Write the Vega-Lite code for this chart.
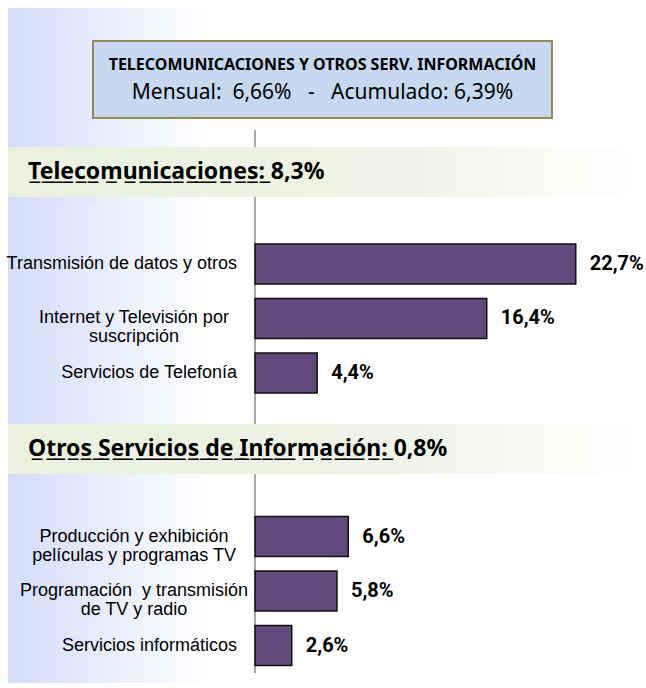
{
  "$schema": "https://vega.github.io/schema/vega-lite/v6.json",
  "width": 638,
  "height": 675,
  "padding": {"left": 8, "top": 8, "right": 0, "bottom": 5},
  "autosize": {"type": "none"},
  "background": "#ffffff",
  "config": {
    "view": {"stroke": null},
    "locale": {"number": {"decimal": ",", "thousands": ".", "grouping": [3], "currency": ["", " €"]}}
  },
  "datasets": {
    "titulo": [
      {"titulo": "TELECOMUNICACIONES Y OTROS SERV. INFORMACIÓN", "mensual": 0.0666, "acumulado": 0.0639}
    ],
    "grupos": [
      {"grupo": "Telecomunicaciones", "tasa": 0.083},
      {"grupo": "Otros Servicios de Información", "tasa": 0.008}
    ],
    "barras": [
      {"grupo": "Telecomunicaciones", "categoria": "Transmisión de datos y otros", "valor": 0.227},
      {"grupo": "Telecomunicaciones", "categoria": "Internet y Televisión por\nsuscripción", "valor": 0.164},
      {"grupo": "Telecomunicaciones", "categoria": "Servicios de Telefonía", "valor": 0.044},
      {"grupo": "Otros Servicios de Información", "categoria": "Producción y exhibición\npelículas y programas TV", "valor": 0.066},
      {"grupo": "Otros Servicios de Información", "categoria": "Programación\u00a0 y transmisión\nde TV y radio", "valor": 0.058},
      {"grupo": "Otros Servicios de Información", "categoria": "Servicios informáticos", "valor": 0.026}
    ]
  },
  "resolve": {"scale": {"x": "independent", "y": "independent"}},
  "layer": [
    {
      "data": {"name": "titulo"},
      "mark": {
        "type": "rect",
        "fill": {"gradient": "linear", "x1": 0, "y1": 0, "x2": 1, "y2": 0,
          "stops": [{"offset": 0, "color": "#d3ddfa"}, {"offset": 0.32, "color": "#ffffff"}, {"offset": 1, "color": "#ffffff"}]}
      },
      "encoding": {}
    },
    {
      "resolve": {"scale": {"y": "independent"}},
      "layer": [
        {
          "data": {"values": [{"eje": "Variación"}]},
          "mark": {"type": "bar", "fill": null, "stroke": "#8a8a8a", "strokeWidth": 1},
          "encoding": {
            "x": {"datum": 0, "type": "quantitative", "axis": null, "scale": {"domain": [-0.17481, 0.27672], "nice": false}},
            "x2": {"datum": 0},
            "y": {"field": "eje", "type": "nominal", "axis": null, "scale": {"range": [122, 665], "paddingInner": 0, "paddingOuter": 0}}
          }
        },
        {
          "data": {"name": "barras"},
          "encoding": {
            "y": {"field": "categoria", "type": "nominal", "axis": null, "sort": null,
              "scale": {"domain": ["Transmisión de datos y otros", "Internet y Televisión por\nsuscripción", "Servicios de Telefonía", " ", "  ", "Producción y exhibición\npelículas y programas TV", "Programación\u00a0 y transmisión\nde TV y radio", "Servicios informáticos"],
                "range": [236, 657.5], "paddingInner": 0.26606, "paddingOuter": 0}},
            "x": {"field": "valor", "type": "quantitative", "axis": null, "scale": {"domain": [-0.17481, 0.27672], "nice": false}}
          },
          "layer": [
            {
              "mark": {"type": "bar", "fill": "#5f4a7b", "stroke": "#111111", "strokeWidth": 1.5},
              "encoding": {"x2": {"datum": 0}}
            },
            {
              "transform": [{"filter": "indexof(datum.categoria, '\\n') < 0"}],
              "mark": {"type": "text", "align": "right", "baseline": "middle", "dx": -18,
                "font": "Liberation Sans", "fontSize": 18, "color": "#000000"},
              "encoding": {"x": {"datum": 0}, "text": {"field": "categoria"}}
            },
            {
              "transform": [{"filter": "indexof(datum.categoria, '\\n') >= 0"}],
              "mark": {"type": "text", "align": "center", "baseline": "middle", "dx": -121, "lineBreak": "\n", "lineHeight": 19,
                "font": "Liberation Sans", "fontSize": 18, "color": "#000000"},
              "encoding": {"x": {"datum": 0}, "text": {"field": "categoria"}}
            },
            {
              "mark": {"type": "text", "align": "left", "baseline": "middle", "dx": 14,
                "font": "Roboto", "fontWeight": "bold", "fontSize": 20, "color": "#000000"},
              "encoding": {"text": {"field": "valor", "format": ".1%"}}
            }
          ]
        }
      ]
    },
    {
      "data": {"name": "grupos"},
      "transform": [
        {"calculate": "replace(datum.grupo + ':', regexp('(.)', 'g'), '$1\u0332') + ' ' + format(datum.tasa, '.1%')", "as": "encabezado"}
      ],
      "encoding": {
        "y": {"field": "grupo", "type": "nominal", "axis": null, "sort": null,
          "scale": {"domain": ["Telecomunicaciones", "Otros Servicios de Información"], "range": [139, 466], "paddingInner": 0.81949, "paddingOuter": 0}}
      },
      "layer": [
        {
          "mark": {
            "type": "rect",
            "fill": {"gradient": "linear", "x1": 0, "y1": 0, "x2": 1, "y2": 0,
              "stops": [{"offset": 0, "color": "#ebf1de"}, {"offset": 0.6, "color": "#eef3e5"}, {"offset": 1, "color": "#ffffff"}]}
          }
        },
        {
          "mark": {"type": "text", "align": "left", "baseline": "middle", "font": "Noto Sans", "fontWeight": "bold", "fontSize": 23, "color": "#000000"},
          "encoding": {
            "x": {"datum": -0.16065, "type": "quantitative", "axis": null, "scale": {"domain": [-0.17481, 0.27672], "nice": false}},
            "text": {"field": "encabezado"}
          }
        }
      ]
    },
    {
      "data": {"name": "titulo"},
      "transform": [
        {"calculate": "'Mensual:\u00a0\u00a0' + format(datum.mensual, '.2%') + '\u00a0\u00a0\u00a0-\u00a0\u00a0\u00a0Acumulado:\u00a0' + format(datum.acumulado, '.2%')", "as": "detalle"}
      ],
      "encoding": {
        "x": {"field": "titulo", "type": "nominal", "axis": null, "scale": {"range": [85, 544], "paddingInner": 0, "paddingOuter": 0}},
        "y": {"field": "titulo", "type": "nominal", "axis": null, "scale": {"range": [33, 110], "paddingInner": 0, "paddingOuter": 0}}
      },
      "layer": [
        {"mark": {"type": "rect", "fill": "#c6d9f1", "stroke": "#948a54", "strokeWidth": 2}},
        {
          "mark": {"type": "text", "baseline": "middle", "dy": -15, "font": "Noto Sans", "fontWeight": "bold", "fontSize": 16, "color": "#000000"},
          "encoding": {"text": {"field": "titulo"}}
        },
        {
          "mark": {"type": "text", "baseline": "middle", "dy": 13, "font": "Noto Sans", "fontSize": 21, "color": "#000000"},
          "encoding": {"text": {"field": "detalle"}}
        }
      ]
    }
  ]
}
